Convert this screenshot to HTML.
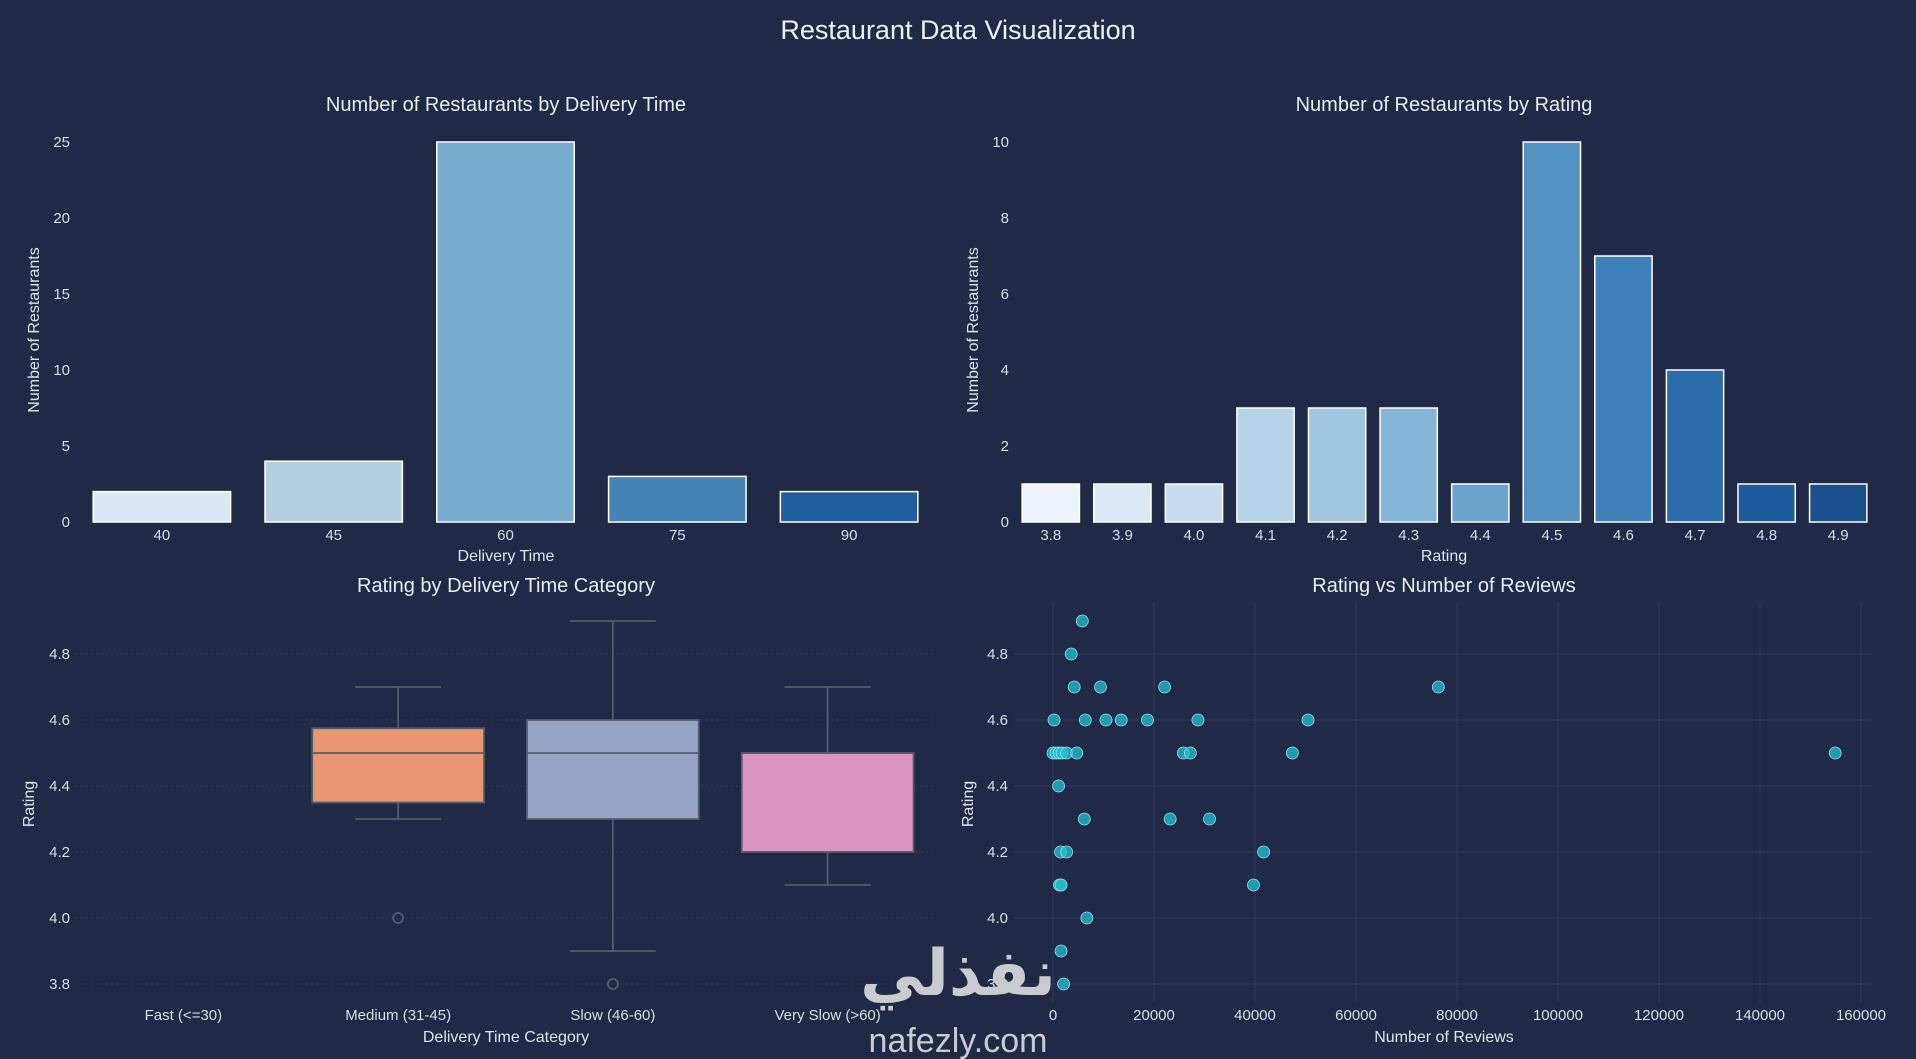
<!DOCTYPE html>
<html><head><meta charset="utf-8">
<style>
html,body{margin:0;padding:0;background:#202a46;}
svg{display:block;font-family:"Liberation Sans","DejaVu Sans",sans-serif;}
</style></head>
<body>
<svg id="c" width="1916" height="1059" viewBox="0 0 1916 1059" xmlns="http://www.w3.org/2000/svg">
<rect width="1916" height="1059" fill="#202a46"/>
<text x="958" y="39" text-anchor="middle" font-size="27" fill="#eef0f5">Restaurant Data Visualization</text>
</svg>
<script>
const deliveryCats = ["40","45","60","75","90"];
const deliveryCounts = [2,4,25,3,2];
const deliveryColors = ["#dce8f4","#b5d0e2","#76abcd","#4583b6","#205e9d"];
const ratingCats = ["3.8","3.9","4.0","4.1","4.2","4.3","4.4","4.5","4.6","4.7","4.8","4.9"];
const ratingCounts = [1,1,1,3,3,3,1,10,7,4,1,1];
const ratingColors = ["#eef4fb","#dde9f5","#cadcef","#b7d3e8","#a0c5df","#86b6d7","#6aa4cd","#5392c2","#3e80b8","#2c6dab","#1e5b9c","#1a4e8c"];
const boxCats = ["Fast (<=30)","Medium (31-45)","Slow (46-60)","Very Slow (>60)"];
const boxQ1 = [null,4.35,4.3,4.2];
const boxMed = [null,4.5,4.5,4.5];
const boxQ3 = [null,4.575,4.6,4.5];
const boxLo = [null,4.3,3.9,4.1];
const boxHi = [null,4.7,4.9,4.7];
const boxOut = [[],[4.0],[3.8],[]];
const boxColors = ["#66c2a5","#ea9776","#96a4c5","#dc95c1"];
const reviews = [5800,3600,4200,9400,22100,76300,200,6400,10500,13500,18700,28700,50500,0,600,1200,1800,2700,4700,25800,27200,47400,154900,1100,6200,23200,31000,1500,2700,41700,1300,1600,39700,6700,1600,2100];
const ratings = [4.9,4.8,4.7,4.7,4.7,4.7,4.6,4.6,4.6,4.6,4.6,4.6,4.6,4.5,4.5,4.5,4.5,4.5,4.5,4.5,4.5,4.5,4.5,4.4,4.3,4.3,4.3,4.2,4.2,4.2,4.1,4.1,4.1,4.0,3.9,3.8];
const countTicks1 = [0,5,10,15,20,25];
const countTicks2 = [0,2,4,6,8,10];
const ratingTicks = [3.8,4.0,4.2,4.4,4.6,4.8];
const reviewTicks = [0,20000,40000,60000,80000,100000,120000,140000,160000];

const NS="http://www.w3.org/2000/svg";
const svg=document.getElementById('c');
function mk(tag,attrs,parent,text){const e=document.createElementNS(NS,tag);for(const k in attrs)e.setAttribute(k,attrs[k]);if(text!==undefined)e.textContent=text;(parent||svg).appendChild(e);return e;}
const TICK="#d9dde6", LBL="#dfe2ea";
function lin(d0,d1,r0,r1){return v=>r0+(v-d0)/(d1-d0)*(r1-r0);}

function titleAt(x,y,t,name){const e=mk('text',{x:x,y:y,'text-anchor':'middle','font-size':20,fill:'#e8ebf1'},svg,t);}
function ylab(x,y,t,name){const e=mk('text',{x:x,y:y,'text-anchor':'middle','font-size':16,fill:LBL,transform:`rotate(-90 ${x} ${y})`},svg,t);}
function xlab(x,y,t,name){const e=mk('text',{x:x,y:y,'text-anchor':'middle','font-size':16,fill:LBL},svg,t);}

// ---- Bar chart generic
function barChart(cats,vals,cols,L,R,ymax,ticks,prefix){
  const n=cats.length, bw=(R-L)/n;
  const y=lin(0,ymax,522,123);
  ticks.forEach(t=>{const e=mk('text',{x:L-6,y:y(t)+5,'text-anchor':'end','font-size':15,fill:TICK},svg,String(t));
    });
  cats.forEach((c,i)=>{
    const cx=L+bw*(i+0.5);
    const r=mk('rect',{x:cx-bw*0.4,y:y(vals[i]),width:bw*0.8,height:y(0)-y(vals[i]),fill:cols[i],stroke:'#ffffff','stroke-width':1.5});
    
    const t=mk('text',{x:cx,y:540,'text-anchor':'middle','font-size':15,fill:TICK},svg,c);
    
  });
}
titleAt(506,111,'Number of Restaurants by Delivery Time','delivery-chart-title');
barChart(deliveryCats,deliveryCounts,deliveryColors,76,935,26.25,countTicks1,'delivery');
ylab(39,330,'Number of Restaurants','delivery-y-axis-title');
xlab(506,561,'Delivery Time','delivery-x-axis-title');

titleAt(1444,111,'Number of Restaurants by Rating','rating-chart-title');
barChart(ratingCats,ratingCounts,ratingColors,1015,1874,10.5,countTicks2,'rating');
ylab(978,330,'Number of Restaurants','rating-y-axis-title');
xlab(1444,561,'Rating','rating-x-axis-title');

// ---- Box plot
const ry=lin(3.8,4.8,984,654);
titleAt(506,592,'Rating by Delivery Time Category','box-chart-title');
ratingTicks.forEach(t=>{
  const g=mk('line',{x1:76,x2:935,y1:ry(t),y2:ry(t),stroke:'#2f3a57','stroke-width':1,'stroke-dasharray':'2 3'});
  
  const e=mk('text',{x:70,y:ry(t)+5,'text-anchor':'end','font-size':15,fill:TICK},svg,t.toFixed(1));
  
});
const bsp=(935-76)/boxCats.length;
boxCats.forEach((c,i)=>{
  const cx=76+bsp*(i+0.5), hw=bsp*0.4, cw=bsp*0.2;
  const t=mk('text',{x:cx,y:1020,'text-anchor':'middle','font-size':15,fill:TICK},svg,c);
  
  if(boxQ1[i]===null)return;
  const g=mk('g',{});
  
  const st={stroke:'#555d69','stroke-width':1.8,fill:'none'};
  mk('line',Object.assign({x1:cx,x2:cx,y1:ry(boxQ3[i]),y2:ry(boxHi[i])},st),g);
  mk('line',Object.assign({x1:cx,x2:cx,y1:ry(boxQ1[i]),y2:ry(boxLo[i])},st),g);
  mk('line',Object.assign({x1:cx-cw,x2:cx+cw,y1:ry(boxHi[i]),y2:ry(boxHi[i])},st),g);
  mk('line',Object.assign({x1:cx-cw,x2:cx+cw,y1:ry(boxLo[i]),y2:ry(boxLo[i])},st),g);
  mk('rect',{x:cx-hw,y:ry(boxQ3[i]),width:hw*2,height:ry(boxQ1[i])-ry(boxQ3[i]),fill:boxColors[i],stroke:'#555d69','stroke-width':1.8},g);
  mk('line',Object.assign({x1:cx-hw,x2:cx+hw,y1:ry(boxMed[i]),y2:ry(boxMed[i])},st),g);
  boxOut[i].forEach(o=>{mk('circle',Object.assign({cx:cx,cy:ry(o),r:5},st),g);});
});
ylab(34,804,'Rating','box-y-axis-title');
xlab(506,1042,'Delivery Time Category','box-x-axis-title');

// ---- Scatter
const sx=lin(0,160000,1053,1861);
titleAt(1444,592,'Rating vs Number of Reviews','scatter-chart-title');
reviewTicks.forEach(t=>{
  const g=mk('line',{x1:sx(t),x2:sx(t),y1:602,y2:1002,stroke:'#2f3a57','stroke-width':1});
  
  const e=mk('text',{x:sx(t),y:1020,'text-anchor':'middle','font-size':15,fill:TICK},svg,String(t));
  
});
ratingTicks.forEach(t=>{
  const g=mk('line',{x1:1014,x2:1872,y1:ry(t),y2:ry(t),stroke:'#2f3a57','stroke-width':1});
  
  const e=mk('text',{x:1008,y:ry(t)+5,'text-anchor':'end','font-size':15,fill:TICK},svg,t.toFixed(1));
  
});
reviews.forEach((v,i)=>{
  const p=mk('circle',{cx:sx(v),cy:ry(ratings[i]),r:6,fill:'#1fc3d3','fill-opacity':0.75,stroke:'#9fdde6','stroke-width':0.8});
  
});
ylab(973,804,'Rating','scatter-y-axis-title');
xlab(1444,1042,'Number of Reviews','scatter-x-axis-title');

// watermark
const w1=mk('text',{x:958,y:995,'text-anchor':'middle','font-size':64,'font-weight':'bold',fill:'#c9cbcf','font-family':'"DejaVu Sans",sans-serif'},svg,'نفذلي');

const w2=mk('text',{x:958,y:1052,'text-anchor':'middle','font-size':34,fill:'#c9cbcf'},svg,'nafezly.com');

</script>
</body></html>
